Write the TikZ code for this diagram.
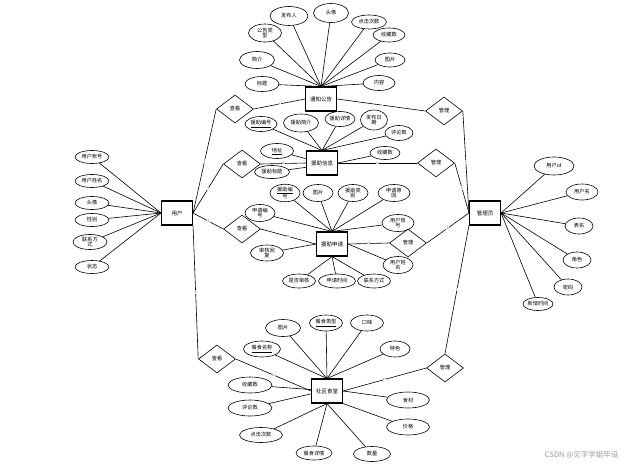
\documentclass[tikz,border=0pt]{standalone}
\usepackage{fontspec}
\setmainfont{Noto Sans CJK SC}
\usetikzlibrary{shapes.geometric}
\definecolor{cmark}{HTML}{8A5A1E}
\definecolor{cgrey}{HTML}{9A9A9A}
\tikzset{
  every picture/.style={line width=0.6pt},
  ent/.style={draw, line width=1.1pt, minimum width=31pt, minimum height=24pt, inner sep=0pt, font=\fontsize{5.5}{6.5}\selectfont},
  attr/.style={draw, ellipse, minimum width=34pt, minimum height=16pt, inner sep=0pt, align=center, font=\fontsize{5.2}{5.8}\selectfont},
  rel/.style={draw, diamond, minimum width=37pt, minimum height=28pt, inner sep=0pt, font=\fontsize{5.2}{5.8}\selectfont},
  card/.style={font=\fontsize{4}{4}\selectfont, text=cmark, fill=white, inner sep=0.4pt},
}

\begin{document}
\begin{tikzpicture}[x=1pt, y=-1pt]
  \useasboundingbox (0,0) rectangle (639,468);
  % entities
  \node[ent] (user) at (177,213) {用户};
  \node[ent] (admin) at (485,213) {管理员};
  \node[ent] (notice) at (321,99) {通知公告};
  \node[ent] (info) at (322,163) {援助信息};
  \node[ent] (apply) at (332,244) {援助申请};
  \node[ent] (canteen) at (327,391) {社区食堂};
  % relationships
  \node[rel] (see1) at (235,109) {查看};
  \node[rel] (see2) at (242,164) {查看};
  \node[rel] (see3) at (242,229) {查看};
  \node[rel] (see4) at (217,359) {查看};
  \node[rel] (man1) at (444,111) {管理};
  \node[rel] (man2) at (436,163) {管理};
  \node[rel] (man3) at (408,243) {管理};
  \node[rel] (man4) at (445,368) {管理};

  % user attributes
  \node[attr, minimum height=13pt] (ua1) at (92,157) {用户账号};
  \node[attr, minimum height=13pt] (ua2) at (92,181) {用户姓名};
  \node[attr, minimum height=13pt] (ua3) at (92,203) {头像};
  \node[attr, minimum height=13pt] (ua4) at (92,220) {性别};
  \node[attr, minimum height=15pt] (ua5) at (90,242) {联系方\\式};
  \node[attr, minimum height=13pt] (ua6) at (92,267) {状态};
  \foreach \a in {ua1,ua2,ua3,ua4,ua5,ua6} \draw (\a) -- (user.west);

  % admin attributes
  \node[attr, minimum width=40pt, minimum height=18pt] (aa1) at (554,166) {用户id};
  \node[attr, minimum width=32pt] (aa2) at (582,192) {用户名};
  \node[attr, minimum width=28pt] (aa3) at (579,226) {表名};
  \node[attr, minimum width=28pt] (aa4) at (577,260) {角色};
  \node[attr, minimum width=28pt] (aa5) at (568,287) {密码};
  \node[attr, minimum width=30pt, minimum height=13pt] (aa6) at (538,304) {新增时间};
  \foreach \a in {aa1,aa2,aa3,aa4,aa5,aa6} \draw (\a) -- (admin.east);

  % notice attributes
  \node[attr, minimum width=33pt, minimum height=18pt] (na1) at (265,33) {公告类\\型};
  \node[attr, minimum width=38pt, minimum height=19pt] (na2) at (289,16) {发布人};
  \node[attr, minimum width=35pt, minimum height=19pt] (na3) at (331,13) {头像};
  \node[attr, minimum width=35pt, minimum height=14pt] (na4) at (369,22) {点击次数};
  \node[attr, minimum width=32pt, minimum height=14pt] (na5) at (389,35) {收藏数};
  \node[attr, minimum width=30pt, minimum height=14pt] (na6) at (390,60) {图片};
  \node[attr, minimum width=32pt, minimum height=15pt] (na7) at (379,83) {内容};
  \node[attr, minimum width=34pt, minimum height=15pt] (na8) at (262,84) {标题};
  \node[attr, minimum width=35pt, minimum height=17pt] (na9) at (257,60) {简介};
  \foreach \a in {na1,na2,na3,na4,na5,na6,na7,na8,na9} \draw (\a) -- (notice.north);

  % aid info attributes
  \node[attr, minimum width=32pt, minimum height=15pt] (ia1) at (261,124) {\underline{援助编号}};
  \node[attr, minimum width=35pt, minimum height=18pt] (ia2) at (301,123) {援助简介};
  \node[attr, minimum width=30pt, minimum height=15pt] (ia3) at (340,119) {援助详情};
  \node[attr, minimum width=27pt, minimum height=20pt] (ia4) at (374,120) {发布日\\期};
  \node[attr, minimum width=28pt, minimum height=15pt] (ia5) at (399,133) {评论数};
  \node[attr, minimum width=30pt, minimum height=13pt] (ia6) at (385,153) {收藏数};
  \node[attr, minimum width=33pt, minimum height=15pt] (ia7) at (277,151) {\underline{地址}};
  \node[attr, minimum width=35pt, minimum height=13pt] (ia8) at (272,172) {援助标题};
  \foreach \a in {ia1,ia2,ia3,ia4,ia5} \draw (\a) -- (info.north);
  \draw (ia6) -- (info.east);
  \draw (ia7) -- (info.165);
  \draw (ia8) -- (info.195);

  % aid application attributes
  \node[attr, minimum width=30pt, minimum height=17pt] (pa1) at (285,193) {\underline{援助编}\\号};
  \node[attr, minimum width=30pt, minimum height=17pt] (pa2) at (318,193) {图片};
  \node[attr, minimum width=30pt, minimum height=17pt] (pa3) at (353,193) {援助类\\别};
  \node[attr, minimum width=32pt, minimum height=17pt] (pa4) at (394,193) {申请原\\因};
  \node[attr, minimum width=30pt, minimum height=17pt] (pa5) at (260,213) {申请编\\号};
  \node[attr, minimum width=32pt, minimum height=17pt] (pa6) at (398,223) {用户账\\号};
  \node[attr, minimum width=33pt, minimum height=16pt] (pa7) at (267,253) {审核回\\复};
  \node[attr, minimum width=30pt, minimum height=17pt] (pa8) at (398,265) {用户姓\\名};
  \node[attr, minimum width=33pt, minimum height=14pt] (pa9) at (299,281) {是否审核};
  \node[attr, minimum width=37pt, minimum height=14pt] (pa10) at (337,281) {申请时间};
  \node[attr, minimum width=33pt, minimum height=14pt] (pa11) at (374,281) {联系方式};
  \foreach \a in {pa1,pa2,pa3,pa4,pa5,pa6} \draw (\a) -- (apply.north);
  \draw (pa7) -- (apply.west);
  \draw (pa8) -- (apply.east);
  \foreach \a in {pa9,pa10,pa11} \draw (\a) -- (apply.south);

  % canteen attributes
  \node[attr, minimum width=35pt, minimum height=17pt] (ca1) at (283,328) {图片};
  \node[attr, minimum width=33pt, minimum height=16pt] (ca2) at (326,323) {\underline{餐食类型}};
  \node[attr, minimum width=33pt, minimum height=16pt] (ca3) at (367,323) {口味};
  \node[attr, minimum width=37pt, minimum height=16pt] (ca4) at (262,349) {\underline{餐食名称}};
  \node[attr, minimum width=30pt, minimum height=16pt] (ca5) at (395,349) {特色};
  \node[attr, minimum width=44pt, minimum height=16pt] (ca6) at (250,385) {收藏数};
  \node[attr, minimum width=43pt, minimum height=16pt] (ca7) at (408,400) {食材};
  \node[attr, minimum width=44pt, minimum height=16pt] (ca8) at (250,408) {评论数};
  \node[attr, minimum width=43pt, minimum height=16pt] (ca9) at (408,427) {价格};
  \node[attr, minimum width=43pt, minimum height=15pt] (ca10) at (261,435) {点击次数};
  \node[attr, minimum width=36pt, minimum height=14pt] (ca11) at (314,453) {餐食详情};
  \node[attr, minimum width=37pt, minimum height=15pt] (ca12) at (372,454) {数量};
  \foreach \a in {ca1,ca2,ca3,ca4,ca5} \draw (\a) -- (canteen.north);
  \draw (ca6) -- (canteen.175);
  \draw (ca8) -- (canteen.190);
  \draw (ca7) -- (canteen.east);
  \draw (ca9) -- (canteen.south east);
  \foreach \a in {ca10,ca11,ca12} \draw (\a) -- (canteen.south);

  % user side links
  \draw (user.east) -- (see1.west) node[card, midway] {1};
  \draw (user.east) -- (see2.west) node[card, midway] {1};
  \draw (user.east) -- (see3.west) node[card, midway] {1};
  \draw (user.south east) -- (see4.west) node[card, midway] {1};
  \draw (see1.east) -- (notice.west) node[card, midway] {n};
  \draw (see2.east) -- (info.west) node[card, midway] {n};
  \draw (see3.east) -- (apply.west) node[card, midway] {n};
  \draw (see4.east) -- (canteen.west) node[card, midway] {n};
  % admin side links
  \draw (admin.west) -- (man1.east) node[card, midway] {1};
  \draw (admin.west) -- (man2.east) node[card, midway] {1};
  \draw (admin.west) -- (man3.east) node[card, midway] {1};
  \draw (admin.south west) -- (man4.north) node[card, midway] {1};
  \draw (man1.west) -- (notice.east) node[card, midway] {n};
  \draw (man2.west) -- (info.east) node[card, midway] {n};
  \draw (man3.west) -- (apply.east) node[card, midway] {n};
  \draw (man4.west) -- (canteen.east) node[card, midway] {n};

  \node[text=cgrey, font=\fontsize{7.5}{8}\selectfont, anchor=east] (mark) at (622,455) {CSDN @见字学姐毕设};
\end{tikzpicture}
\end{document}
